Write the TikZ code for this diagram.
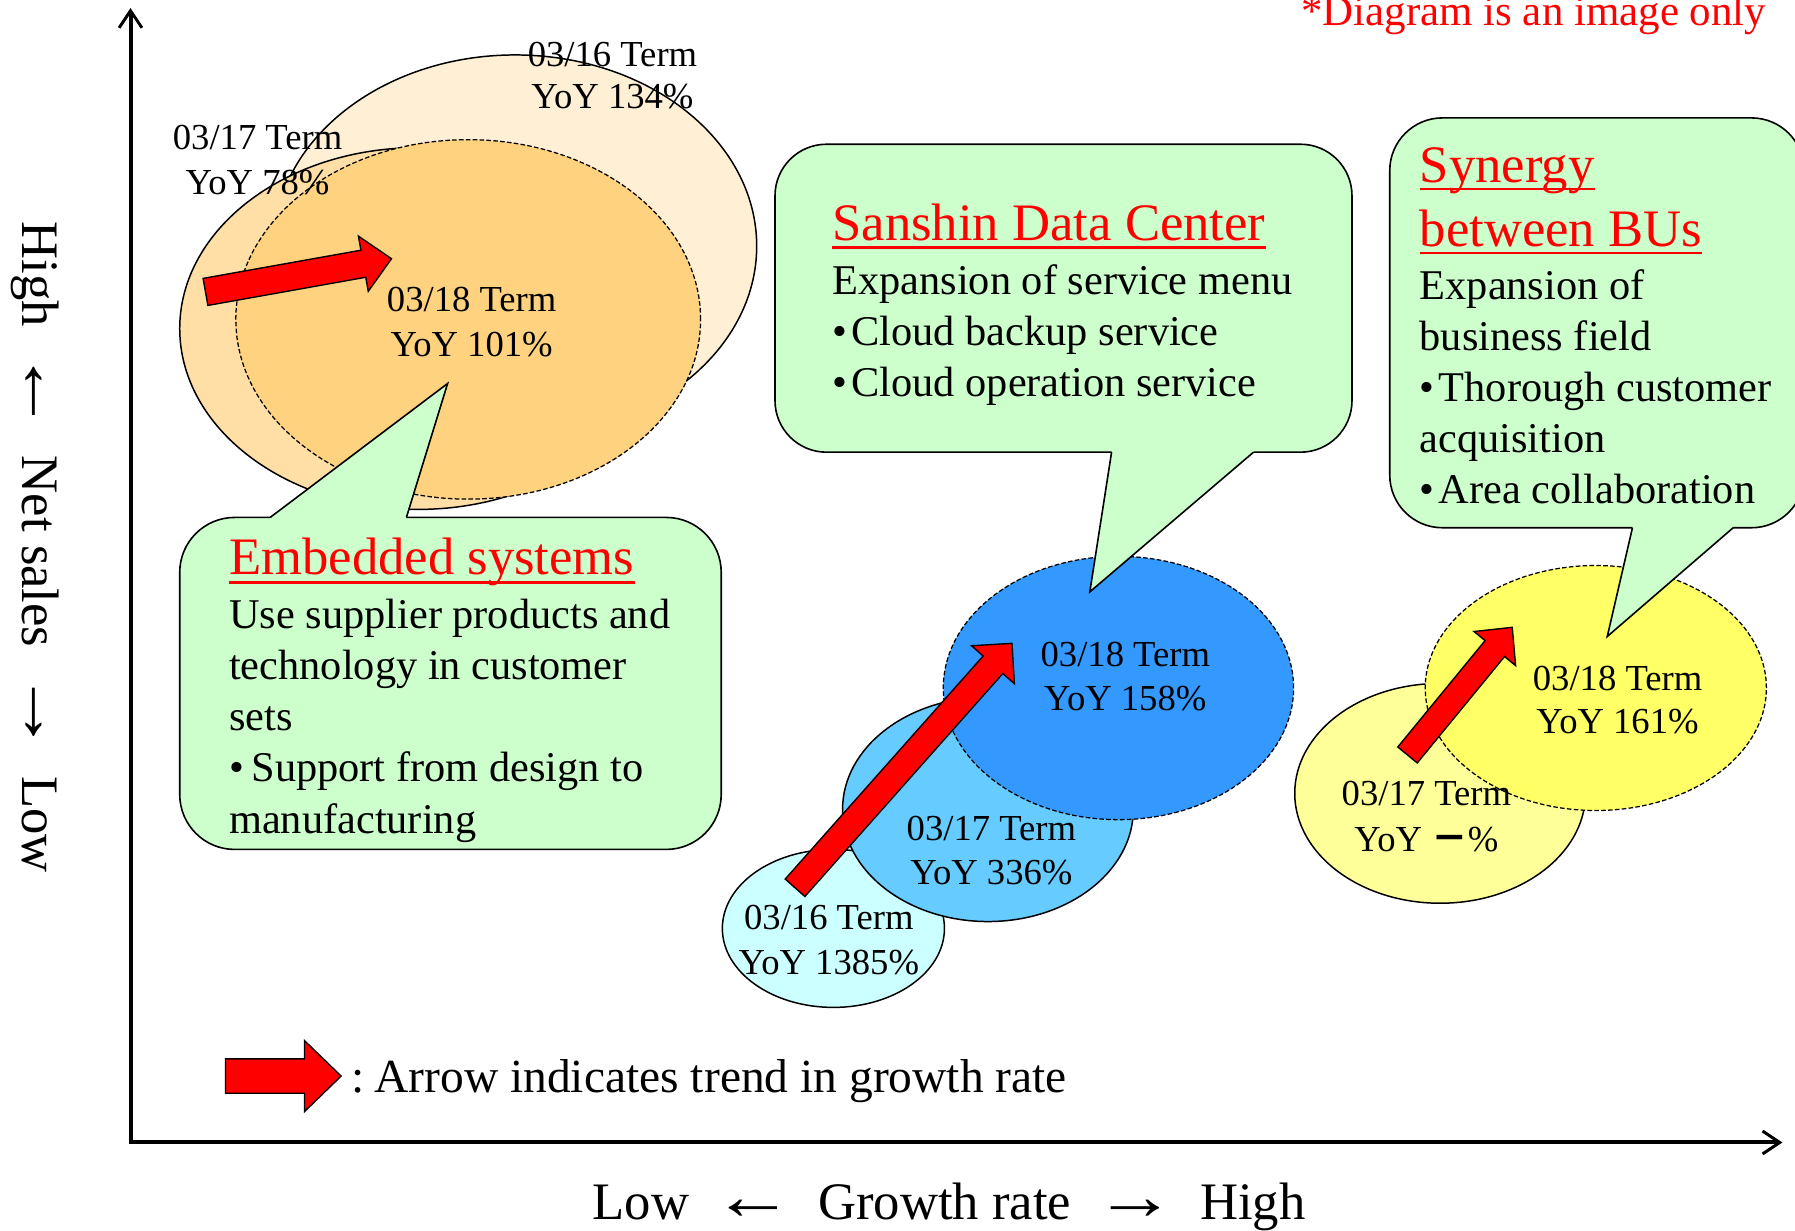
\documentclass[tikz,border=0pt]{standalone}
\usepackage{fontspec}
\usepackage{graphicx}
\setmainfont{Liberation Serif}
\newfontfamily\cjk{Noto Sans CJK JP}
\usetikzlibrary{shapes.geometric,calc,arrows.meta}
\definecolor{oa}{HTML}{FFEFD5}
\definecolor{ob}{HTML}{FFDFA6}
\definecolor{oc}{HTML}{FFD280}
\definecolor{ba}{HTML}{CCFFFF}
\definecolor{bb}{HTML}{66CCFF}
\definecolor{bc}{HTML}{3399FF}
\definecolor{ya}{HTML}{FFFF99}
\definecolor{yb}{HTML}{FFFF66}
\definecolor{cgreen}{HTML}{CCFFCC}
\definecolor{tred}{HTML}{FF0000}
\newcommand\blockarrow[5]{%
  \coordinate (hb) at ($(#2)!#5!(#1)$);
  \draw[trendarrow] ($(#1)!#3!90:(#2)$) -- ($(hb)!#3!90:(#2)$) -- ($(hb)!#4!90:(#2)$) -- (#2) -- ($(hb)!#4!-90:(#2)$) -- ($(hb)!#3!-90:(#2)$) -- ($(#1)!#3!-90:(#2)$) -- cycle;}
\newcommand\bul{•\hspace{0.1em}}
\newcommand\larr{\hspace{0.45em}\scalebox{1.55}[1.3]{←}\hspace{0.45em}}
\newcommand\rarr{\hspace{0.45em}\scalebox{1.55}[1.3]{→}\hspace{0.45em}}
\begin{document}
\begin{tikzpicture}[x=1pt,y=-1pt,
  oval/.style={ellipse, draw=black, line width=1.3pt, inner sep=0pt},
  dashoval/.style={oval, dash pattern=on 4pt off 2pt, line width=1.1pt},
  trendarrow/.style={draw=black, fill=tred, line width=1.2pt, line join=miter},
  callbox/.style={draw=black, fill=cgreen, line width=1.4pt, rounded corners=48pt, inner sep=0pt},
  cline/.style={draw=black, line width=1.4pt, line join=miter},
  lbl/.style={font=\fontsize{32}{39}\selectfont, anchor=base, inner sep=0pt},
  body/.style={font=\fontsize{37}{44.5}\selectfont, anchor=base west, inner sep=0pt},
  ttl/.style={font=\fontsize{46}{56}\selectfont, text=tred, anchor=base west, inner sep=0pt},
  uline/.style={draw=tred, line width=2.4pt},
  axislbl/.style={font=\fontsize{46}{56}\selectfont, inner sep=0pt},
  axis/.style={line width=3.5pt, line join=miter, {Straight Barb[length=15pt,width=20pt,line width=2.6pt]}-{Straight Barb[length=15pt,width=20pt,line width=2.6pt]}}
]
\useasboundingbox (0,0) rectangle (1568,1075);
\fill[white] (0,0) rectangle (1568,1075);

% ---------- axes ----------
\coordinate (ytop) at (114,7);
\coordinate (orig) at (114,998);
\coordinate (xend) at (1557,998);
\draw[axis] (ytop) -- (orig) -- (xend);
\node[axislbl, rotate=-90, anchor=base] (ylab) at (20,478) {High\larr Net sales\rarr Low};
\node[axislbl, anchor=base] (xlab) at (829,1065) {Low\larr Growth rate\rarr High};
\node[font=\fontsize{37.5}{44}\selectfont, text=tred, anchor=base east, inner sep=0pt] (note) at (1543,22) {*Diagram is an image only};

% ---------- Embedded systems ellipses ----------
\node[oval, fill=oa, minimum width=422pt, minimum height=334pt] (e16) at (450,215) {};
\node[oval, fill=ob, minimum width=416pt, minimum height=316pt] (e17) at (365,287) {};
\node[dashoval, fill=oc, minimum width=406pt, minimum height=314pt] (e18) at (409,279) {};
\coordinate (eaT) at (179.5,255);
\coordinate (eaH) at (342,226);
\blockarrow{eaT}{eaH}{12pt}{24.5pt}{25pt}

% ---------- Data center ellipses ----------
\node[oval, fill=ba, minimum width=194pt, minimum height=138pt] (d16) at (728,811) {};
\node[oval, fill=bb, minimum width=254pt, minimum height=196pt] (d17) at (863,707) {};
\node[dashoval, fill=bc, minimum width=306pt, minimum height=230pt] (d18) at (977,601) {};
\coordinate (daT) at (694.5,775.5);
\coordinate (daH) at (884,562);
\blockarrow{daT}{daH}{11.5pt}{25pt}{25pt}

% ---------- Synergy ellipses ----------
\node[oval, fill=ya, minimum width=254pt, minimum height=192pt] (y17) at (1258,693) {};
\node[dashoval, fill=yb, minimum width=298pt, minimum height=214pt] (y18) at (1394,601) {};
\coordinate (yaT) at (1229.5,659.5);
\coordinate (yaH) at (1321,548);
\blockarrow{yaT}{yaH}{11pt}{23.5pt}{24pt}

% ---------- callouts ----------
% Embedded
\node[callbox, minimum width=473pt, minimum height=290pt] (cemb) at (393.5,597) {};
\coordinate (embL) at (236,452); \coordinate (embR) at (355,452); \coordinate (embT) at (391,335);
\fill[cgreen] (embL) -- (embT) -- (embR) -- ([yshift=-4pt]embR) -- ([yshift=-4pt]embL) -- cycle;
\draw[cline] (embL) -- (embT) -- (embR);
% Sanshin
\node[callbox, minimum width=504pt, minimum height=269pt, rounded corners=45pt] (csdc) at (929,260.5) {};
\coordinate (sdcL) at (971,395); \coordinate (sdcR) at (1095,395); \coordinate (sdcT) at (952,517);
\fill[cgreen] (sdcL) -- (sdcT) -- (sdcR) -- ([yshift=4pt]sdcR) -- ([yshift=4pt]sdcL) -- cycle;
\draw[cline] (sdcL) -- (sdcT) -- (sdcR);
% Synergy
\node[callbox, minimum width=362pt, minimum height=358pt, rounded corners=46pt] (csyn) at (1395,282) {};
\coordinate (synL) at (1426,461); \coordinate (synR) at (1514,461); \coordinate (synT) at (1404,556);
\fill[cgreen] (synL) -- (synT) -- (synR) -- ([yshift=4pt]synR) -- ([yshift=4pt]synL) -- cycle;
\draw[cline] (synL) -- (synT) -- (synR);

% ---------- ellipse labels ----------
\node[lbl] (le16a) at (535,58) {03/16 Term};
\node[lbl] (le16b) at (535,95) {YoY 134\%};
\node[lbl] (le17a) at (225,131) {03/17 Term};
\node[lbl] (le17b) at (225,170) {YoY 78\%};
\node[lbl] (le18a) at (412,272) {03/18 Term};
\node[lbl] (le18b) at (412,311) {YoY 101\%};

\node[lbl] (ld16a) at (724,812) {03/16 Term};
\node[lbl] (ld16b) at (724,851) {YoY 1385\%};
\node[lbl] (ld17a) at (866,734) {03/17 Term};
\node[lbl] (ld17b) at (866,773) {YoY 336\%};
\node[lbl] (ld18a) at (983,582) {03/18 Term};
\node[lbl] (ld18b) at (983,621) {YoY 158\%};

\node[lbl] (ly17a) at (1246,704) {03/17 Term};
\node[lbl] (ly17b) at (1246,744) {YoY {\cjk\bfseries －}\%};
\node[lbl] (ly18a) at (1413,603) {03/18 Term};
\node[lbl] (ly18b) at (1413,641) {YoY 161\%};

% ---------- callout texts ----------
\node[ttl] (temb) at (200,502) {Embedded systems};
\draw[uline] ([yshift=-7pt]temb.base west) -- ([yshift=-7pt]temb.base east);
\node[body] (bemb1) at (200,549) {Use supplier products and};
\node[body] (bemb2) at (200,593.5) {technology in customer};
\node[body] (bemb3) at (200,638) {sets};
\node[body] (bemb4) at (200,683) {•\hspace{0.18em}Support from design to};
\node[body] (bemb5) at (200,728) {manufacturing};

\node[ttl] (tsdc) at (727,210) {Sanshin Data Center};
\draw[uline] ([yshift=-6pt]tsdc.base west) -- ([yshift=-6pt]tsdc.base east);
\node[body] (bsdc1) at (727,257) {Expansion of service menu};
\node[body] (bsdc2) at (727,302) {\bul Cloud backup service};
\node[body] (bsdc3) at (727,346) {\bul Cloud operation service};

\node[ttl] (tsyn1) at (1240,159) {Synergy};
\draw[uline] ([yshift=-6pt]tsyn1.base west) -- ([yshift=-6pt]tsyn1.base east);
\node[ttl] (tsyn2) at (1240,215) {between BUs};
\draw[uline] ([yshift=-6pt]tsyn2.base west) -- ([yshift=-6pt]tsyn2.base east);
\node[body] (bsyn1) at (1240,262) {Expansion of};
\node[body] (bsyn2) at (1240,306) {business field};
\node[body] (bsyn3) at (1240,351) {\bul Thorough customer};
\node[body] (bsyn4) at (1240,395) {acquisition};
\node[body] (bsyn5) at (1240,440) {\bul Area collaboration};

% ---------- legend ----------
\coordinate (legA) at (197,940);
\coordinate (legB) at (298,940);
\blockarrow{legA}{legB}{15pt}{31pt}{32pt}
\node[font=\fontsize{41.5}{49}\selectfont, anchor=base west, inner sep=0pt] (legtxt) at (307,954) {:\hspace{0.2em}Arrow indicates trend in growth rate};
\end{tikzpicture}
\end{document}
